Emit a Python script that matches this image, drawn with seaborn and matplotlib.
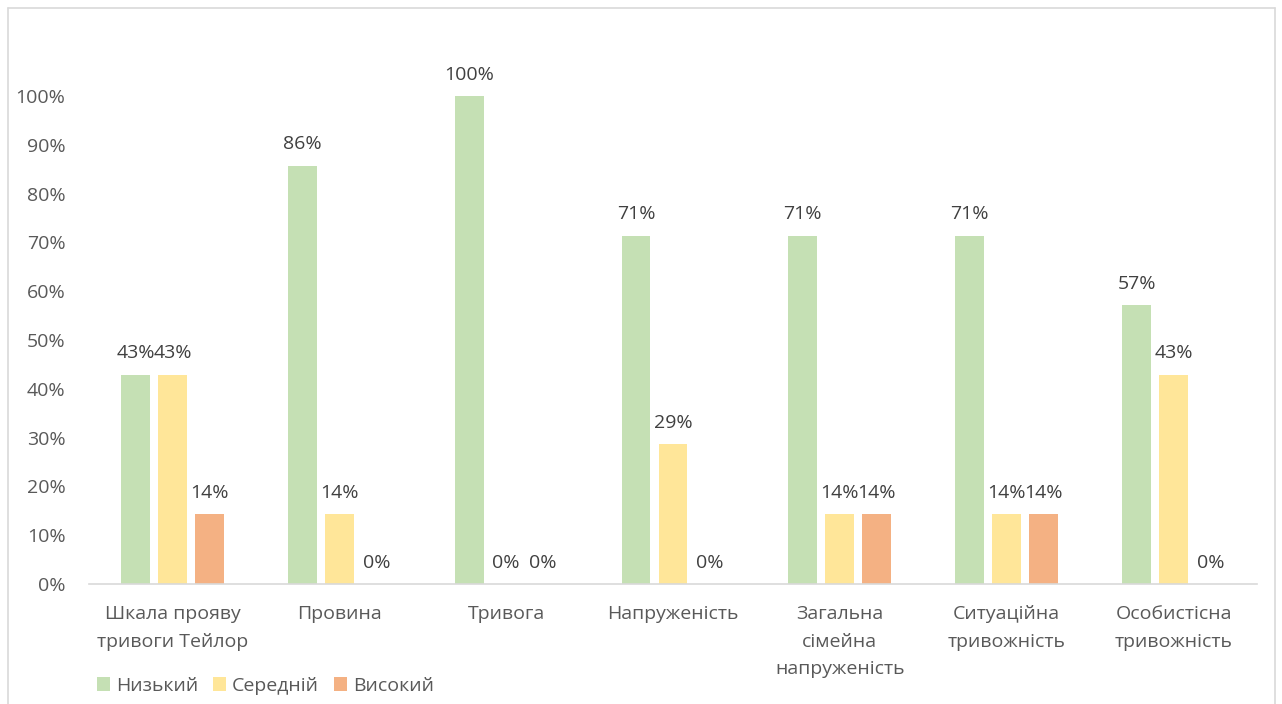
import matplotlib
matplotlib.use("Agg")
import matplotlib.pyplot as plt
import seaborn as sns
import pandas as pd
from matplotlib.patches import Patch
from matplotlib.lines import Line2D

categories = ["Шкала прояву\nтривоги Тейлор", "Провина", "Тривога", "Напруженість",
              "Загальна\nсімейна\nнапруженість", "Ситуаційна\nтривожність", "Особистісна\nтривожність"]
series = ["Низький", "Середній", "Високий"]
low = [42.9, 85.7, 100.0, 71.4, 71.4, 71.4, 57.1]
mid = [42.9, 14.3, 0.0, 28.6, 14.3, 14.3, 42.9]
high = [14.3, 0.0, 0.0, 0.0, 14.3, 14.3, 0.0]
colors = ["#C5E0B4", "#FFE699", "#F4B183"]
yticks = [0, 10, 20, 30, 40, 50, 60, 70, 80, 90, 100]

rows = []
for name, vals in zip(series, [low, mid, high]):
    for c, v in zip(categories, vals):
        rows.append({"cat": c, "level": name, "val": v})
df = pd.DataFrame(rows)

sns.set_theme(style="white")
plt.rcParams["font.family"] = ["Open Sans", "DejaVu Sans"]
txt = "#595959"
lab_c = "#404040"

W, H = 1282, 704
fig = plt.figure(figsize=(W / 100, H / 100), dpi=100)
ax = fig.add_axes([89 / W, 1 - 584 / H, (1257 - 89) / W, (584 - 96) / H])

sns.barplot(data=df, x="cat", y="val", hue="level", hue_order=series, order=categories,
            palette=colors, width=0.665, gap=0.22, ax=ax, legend=False, saturation=1,
            edgecolor="none")

for cont in ax.containers:
    labs = [f"{round(b.get_height())}%" for b in cont]
    ax.bar_label(cont, labels=labs, padding=9, fontsize=14, color=lab_c, clip_on=False)

ax.set_ylim(0, 100)
ax.set_xlim(-0.5, len(categories) - 0.5)
ax.set_yticks(yticks)
ax.set_yticklabels([f"{t}%" for t in yticks], fontsize=14, color=txt)
ax.tick_params(axis="y", length=0, pad=17)
ax.tick_params(axis="x", length=0, pad=15, labelsize=14, labelcolor=txt)
for lab in ax.get_xticklabels():
    lab.set_verticalalignment("top")
    lab.set_linespacing(1.7)
ax.set_xlabel("")
ax.set_ylabel("")
for s in ["top", "right", "left"]:
    ax.spines[s].set_visible(False)
ax.spines["bottom"].set_color("#D9D9D9")
ax.spines["bottom"].set_linewidth(1.2)

handles = [Patch(facecolor=c, edgecolor="none", label=s) for c, s in zip(colors, series)]
fig.legend(handles=handles, loc="center left", bbox_to_anchor=(79 / W, 1 - 686 / H), ncol=3,
           frameon=False, fontsize=14, handlelength=0.7, handleheight=0.7,
           handletextpad=0.3, columnspacing=0.75, labelcolor=txt)

# chart border
bc = "#D9D9D9"
fig.add_artist(Line2D([8 / W, 8 / W], [0, 1 - 8 / H], color=bc, lw=1.2, transform=fig.transFigure))
fig.add_artist(Line2D([8 / W, 1275 / W], [1 - 8 / H, 1 - 8 / H], color=bc, lw=1.2, transform=fig.transFigure))
fig.add_artist(Line2D([1275 / W, 1275 / W], [0, 1 - 8 / H], color=bc, lw=1.2, transform=fig.transFigure))

fig.savefig("out.png", dpi=100)
